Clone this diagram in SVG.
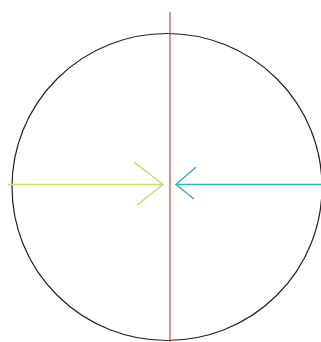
<svg xmlns="http://www.w3.org/2000/svg" width="321" height="342" viewBox="0 0 321 342">
<style>
.c{fill:none;stroke:#222;stroke-width:1.2}
.r{stroke:#c84848;stroke-width:1.2;fill:none}
.y{stroke:#c8dc70;stroke-width:1.5;fill:none}
.b{stroke:#3aaccc;stroke-width:1.5;fill:none}
</style>
<rect width="321" height="342" fill="#fff"/>
<g id="circle"><ellipse class="c" cx="167" cy="187" rx="155" ry="153.5"/></g>
<g id="axis"><line class="r" x1="170" y1="12" x2="170" y2="342"/></g>
<g id="connectors">
<line class="y" x1="8" y1="184.5" x2="163" y2="184.5"/>
<polyline class="y" points="134,162 163,184.5 137,205"/>
<line class="b" x1="176" y1="184.5" x2="321" y2="184.5"/>
<polyline class="b" points="196,167 176,184.5 194,199"/>
</g>
</svg>
